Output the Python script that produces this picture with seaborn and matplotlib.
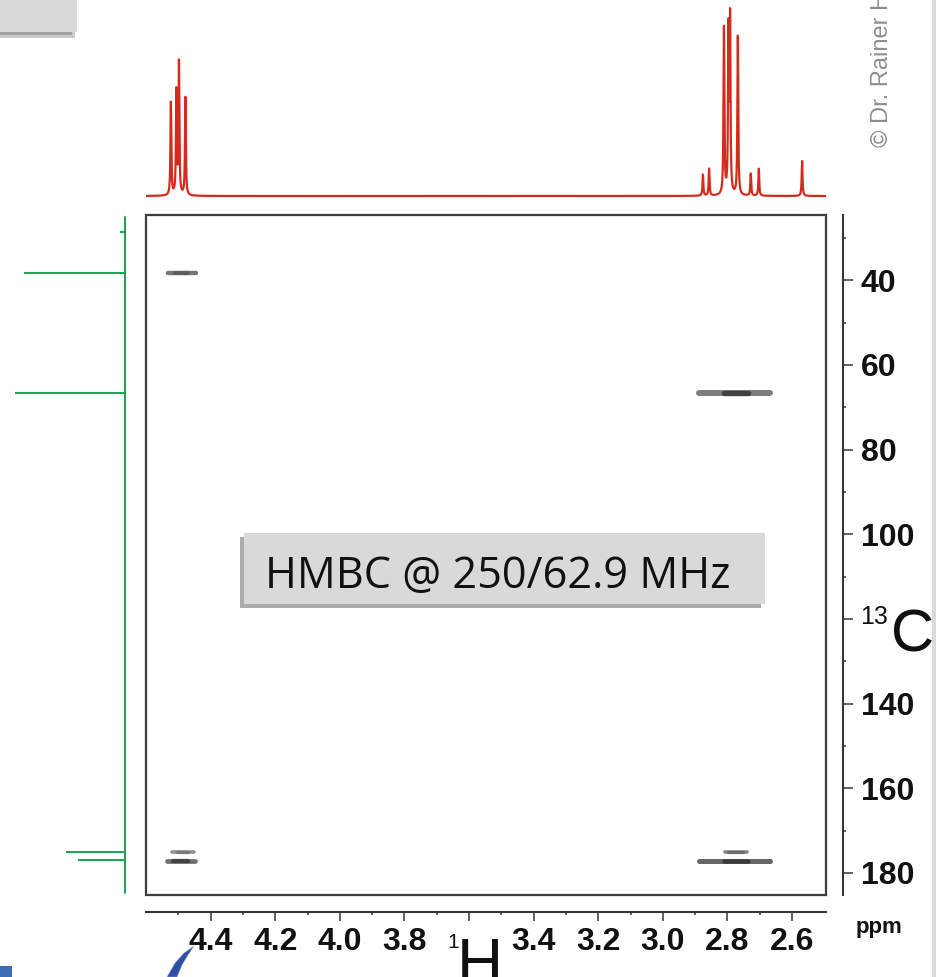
import numpy as np
import pandas as pd
import matplotlib
matplotlib.use("Agg")
import matplotlib.pyplot as plt
import seaborn as sns
from matplotlib.patches import Rectangle, Polygon

# ---------------- data ----------------
# 1H projection: line positions (ppm) and heights (relative)
h1_peak_ppm = [4.523, 4.506, 4.498, 4.478,
               2.876, 2.857, 2.811, 2.797, 2.792, 2.768, 2.728, 2.703, 2.569]
h1_peak_height = [93, 103, 132, 98,
                  21, 27, 167, 160, 172, 159, 22, 27, 35]

# 13C projection: line positions (ppm) and heights (relative)
c13_peak_ppm = [28.6, 38.3, 66.7, 175.1, 177.0]
c13_peak_height = [5, 101, 110, 59, 47]

# HMBC cross peaks: 1H extent (ppm) and 13C shift (ppm)
cross_h_from = [4.532, 2.889, 4.521, 4.535, 2.808, 2.889]
cross_h_to = [4.446, 2.667, 4.450, 4.447, 2.740, 2.669]
cross_c = [38.2, 66.7, 175.1, 177.1, 175.1, 177.1]
# darker central part of each cross peak
core_h_from = [4.510, 2.812, 4.505, 4.515, 2.798, 2.812]
core_h_to = [4.470, 2.738, 4.470, 4.470, 2.752, 2.738]

h_ticks = [4.4, 4.2, 4.0, 3.8, 3.6, 3.4, 3.2, 3.0, 2.8, 2.6]
h_tick_labels = ["4.4", "4.2", "4.0", "3.8", "", "3.4", "3.2", "3.0", "2.8", "2.6"]
h_minor_ticks = [4.5, 4.3, 4.1, 3.9, 3.7, 3.5, 3.3, 3.1, 2.9, 2.7]
c_ticks = [40, 60, 80, 100, 120, 140, 160, 180]
c_tick_labels = ["40", "60", "80", "100", "", "140", "160", "180"]
c_minor_ticks = [30, 50, 70, 90, 110, 130, 150, 170]

h_range = (4.60, 2.495)
c_range = (185.2, 24.6)

# ---------------- style ----------------
sns.set_theme(style="white")
plt.rcParams["font.family"] = ["Liberation Sans", "DejaVu Sans"]

W, H = 937, 977
fig = plt.figure(figsize=(W / 100, H / 100), dpi=100)
fig.patch.set_facecolor("white")

RED = "#d42b1c"
GREEN = "#11a552"
AXC = "#353535"


def px_axes(x0, y0, x1, y1):
    return fig.add_axes([x0 / W, 1 - y1 / H, (x1 - x0) / W, (y1 - y0) / H])


def fx(x):
    return x / W


def fy(y):
    return 1 - y / H


# ---------------- main 2D panel ----------------
ax = px_axes(146, 215, 826, 895)
ax.set_facecolor("white")
ax.set_xlim(*h_range)
ax.set_ylim(*c_range)

cross_df = pd.DataFrame({"h0": cross_h_from, "h1": cross_h_to, "c": cross_c,
                         "k0": core_h_from, "k1": core_h_to})
outer_lw = [3.2, 4.3, 2.6, 3.4, 2.6, 3.6]
outer_col = ["#707070", "#767676", "#8a8a8a", "#666666", "#808080", "#5e5e5e"]
core_col = ["#5a5a5a", "#3a3a3a", "#777777", "#3e3e3e", "#6a6a6a", "#363636"]
for i, r in cross_df.iterrows():
    ax.plot([r.h0, r.h1], [r.c, r.c], color=outer_col[i], lw=outer_lw[i],
            solid_capstyle="round", alpha=0.95)
    ax.plot([r.k0, r.k1], [r.c, r.c], color=core_col[i], lw=outer_lw[i] * 0.9,
            solid_capstyle="round", alpha=0.9)

ax.add_patch(Rectangle((0, 0), 1, 1, transform=ax.transAxes, fill=False,
                       ec="#3d3d3d", lw=1.6, clip_on=False, zorder=5))

for s in ["top", "left"]:
    ax.spines[s].set_visible(False)
for s in ["bottom", "right"]:
    ax.spines[s].set_visible(True)
    ax.spines[s].set_color(AXC)
    ax.spines[s].set_linewidth(1.5)
    ax.spines[s].set_position(("outward", 12.2))

ax.set_xticks(h_ticks)
ax.set_xticklabels(h_tick_labels, fontsize=23, fontweight="bold", color="#111111")
ax.set_xticks(h_minor_ticks, minor=True)
ax.yaxis.set_ticks_position("right")
ax.set_yticks(c_ticks)
ax.set_yticklabels(c_tick_labels, fontsize=23, fontweight="bold", color="#111111")
ax.set_yticks(c_minor_ticks, minor=True)
ax.tick_params(axis="x", which="major", direction="out", length=6.5, width=1.1,
               color=AXC, pad=4, bottom=True, top=False)
ax.tick_params(axis="x", which="minor", direction="out", length=2.5, width=1.1,
               color=AXC, bottom=True, top=False)
ax.tick_params(axis="y", which="major", direction="out", length=7, width=1.1,
               color=AXC, pad=6, left=False, right=True, labelleft=False, labelright=True)
ax.tick_params(axis="y", which="minor", direction="out", length=2.5, width=1.1,
               color=AXC, left=False, right=True)
ax.grid(False)

# ---------------- top 1H projection ----------------
axt = px_axes(146, 0, 826, 200)
grid = np.linspace(h_range[0], h_range[1], 20001)
fwhm = 0.0031
trace = np.zeros_like(grid)
for p, hgt in zip(h1_peak_ppm, h1_peak_height):
    trace += hgt / (1 + (2 * (grid - p) / fwhm) ** 2)
top_df = pd.DataFrame({"ppm": grid, "intensity": trace})
sns.lineplot(data=top_df, x="ppm", y="intensity", ax=axt, color=RED, lw=1.6,
             estimator=None, sort=False)
axt.set_xlim(*h_range)
axt.set_ylim(-4, 196)
axt.axis("off")

# ---------------- left 13C projection ----------------
axl = px_axes(0, 215, 126, 895)
axl.set_xlim(125, -1)
axl.set_ylim(*c_range)
axl.plot([0, 0], [184.8, 25.0], color=GREEN, lw=1.4)
axl.hlines(c13_peak_ppm, 0, c13_peak_height, color=GREEN, lw=1.4)
axl.axis("off")

# ---------------- axis titles ----------------
fig.text(fx(453), fy(948), "1", fontsize=15, ha="center", va="baseline", color="#111111")
fig.text(fx(480), fy(984), "H", fontsize=46, ha="center", va="baseline", color="#111111")
fig.text(fx(860), fy(624), "13", fontsize=18, ha="left", va="baseline", color="#111111")
fig.text(fx(891), fy(651), "C", fontsize=43, ha="left", va="baseline", color="#111111")
fig.text(fx(879), fy(933.5), "ppm", fontsize=16, fontweight="bold", ha="center",
         va="baseline", color="#111111")

# ---------------- decorations ----------------
# text box with shadow
fig.add_artist(Rectangle((fx(240), fy(608)), (761 - 240) / W, (608 - 537) / H,
                         transform=fig.transFigure, fc="#acacac", ec="none", zorder=6))
fig.add_artist(Rectangle((fx(244), fy(604)), (765 - 244) / W, (604 - 533) / H,
                         transform=fig.transFigure, fc="#d9d9d9", ec="none", zorder=7))
box_txt = fig.text(fx(265), fy(588), "HMBC @ 250/62.9 MHz", fontsize=30,
                   family=["Open Sans", "DejaVu Sans"], ha="left", va="baseline",
                   color="#111111", zorder=8)
fig.canvas.draw()
bb = box_txt.get_window_extent()
box_txt.set_fontsize(30 * 465 / bb.width)

# top-left box fragment
fig.add_artist(Rectangle((0, fy(38)), 75 / W, 6 / H, transform=fig.transFigure,
                         fc="#c9c9c9", ec="none", zorder=6))
fig.add_artist(Rectangle((0, fy(35)), 72 / W, 3 / H, transform=fig.transFigure,
                         fc="#a2a2a2", ec="none", zorder=6))
fig.add_artist(Rectangle((0, fy(32)), 77 / W, 32 / H, transform=fig.transFigure,
                         fc="#d9d9d9", ec="none", zorder=7))

# right gray strip
fig.add_artist(Rectangle((fx(932), 0), 5 / W, 1, transform=fig.transFigure,
                         fc="#dadada", ec="none", zorder=6))

# copyright
fig.text(fx(888), fy(147), "\u00a9 Dr. Rainer H", fontsize=17, color="#8e8e8e",
         rotation=90, rotation_mode="anchor", ha="left", va="baseline")

# bottom-left logo fragments
fig.add_artist(Rectangle((0, 0), 12 / W, 11 / H, transform=fig.transFigure,
                         fc="#3b6db5", ec="none", zorder=6))
sw = [(194, 946), (184, 953), (175, 963), (167, 977), (177, 977), (182, 965), (188, 955)]
fig.add_artist(Polygon([(fx(a), fy(b)) for a, b in sw], closed=True,
                       transform=fig.transFigure, fc="#2f4fa6", ec="#9aa6c8", lw=0.4, zorder=6))

fig.savefig("out.png", dpi=100, facecolor="white")
